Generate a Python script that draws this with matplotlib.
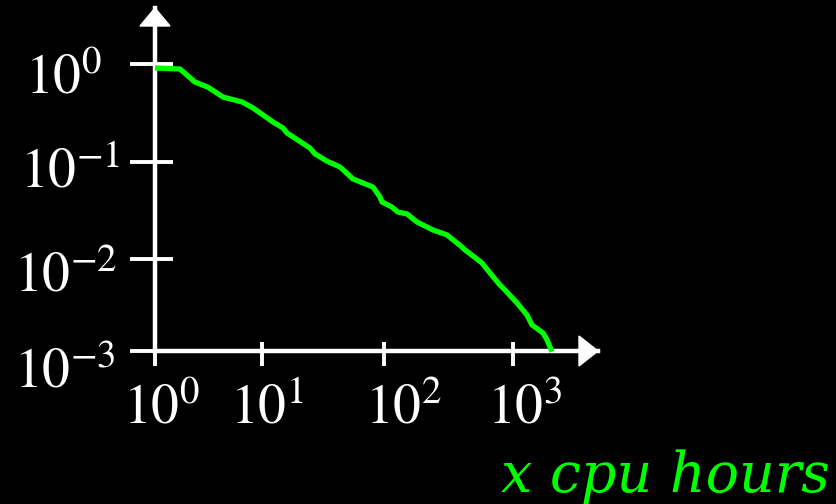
import numpy as np
import matplotlib
matplotlib.use("Agg")
import matplotlib.pyplot as plt
from matplotlib.patches import Polygon

# ---- data ----
cpu_hours = [1.0, 1.71, 2.36, 3.13, 4.32, 6.5, 8.24, 12.3, 14.9, 16.0, 24.7, 27.2,
             34.1, 43.6, 55.7, 81.3, 92.7, 96.3, 115, 128, 151, 180, 208, 240, 308,
             402, 425, 575, 663, 793, 867, 1074, 1284, 1404, 1709, 1837, 2005]
fraction = [0.91, 0.89, 0.655, 0.58, 0.46, 0.41, 0.356, 0.256, 0.222, 0.198, 0.139,
            0.121, 0.102, 0.0888, 0.0668, 0.0552, 0.0436, 0.0387, 0.0344, 0.0305,
            0.0291, 0.0241, 0.0219, 0.0199, 0.0177, 0.0133, 0.0124, 0.00906, 0.00705,
            0.00521, 0.0046, 0.00333, 0.00246, 0.00192, 0.00157, 0.00132, 0.00098]
x_ticks = [1, 10, 100, 1000]
x_tick_labels = ["$10^{0}$", "$10^{1}$", "$10^{2}$", "$10^{3}$"]
y_ticks = [1, 0.1, 0.01, 0.001]
y_tick_labels = ["$10^{0}$", "$10^{-1}$", "$10^{-2}$", "$10^{-3}$"]
x_label = "x cpu hours"

GREEN = "#00ff00"
WHITE = "white"

plt.rcParams["mathtext.fontset"] = "stix"

W, H = 836, 504
fig = plt.figure(figsize=(W / 100, H / 100), dpi=100, facecolor="black")

# axes frame in pixels: origin at (155, 351 from top), extends to arrow tips
x0, x1 = 155, 598
ytop, ybot = 8, 351
ax = fig.add_axes([x0 / W, (H - ybot) / H, (x1 - x0) / W, (ybot - ytop) / H])
ax.set_facecolor("black")

# hand-drawn (uneven) decade spacing of the reference axes
xd = np.array([-3, 0, 1, 2, 3, 6], float)
xp = np.array([-321, 0, 107, 229, 358, 745], float)
yd = np.array([-6, -3, -2, -1, 0, 3], float)
yp = np.array([-276, 0, 92, 189, 287, 581], float)

def fx(v):
    return np.interp(np.log10(np.clip(v, 1e-12, None)), xd, xp)

def fx_inv(p):
    return 10 ** np.interp(p, xp, xd)

def fy(v):
    return np.interp(np.log10(np.clip(v, 1e-12, None)), yd, yp)

def fy_inv(p):
    return 10 ** np.interp(p, yp, yd)

ax.set_xscale("function", functions=(fx, fx_inv))
ax.set_yscale("function", functions=(fy, fy_inv))
ax.set_xlim(1, fx_inv(x1 - x0))
ax.set_ylim(1e-3, fy_inv(ybot - ytop))

ax.plot(cpu_hours, fraction, color=GREEN, lw=3.8, solid_joinstyle="round",
        solid_capstyle="butt", clip_on=False, zorder=3)

# spines
for s in ["top", "right"]:
    ax.spines[s].set_visible(False)
for s in ["left", "bottom"]:
    ax.spines[s].set_color(WHITE)
    ax.spines[s].set_linewidth(3.2)

# ticks: major "out" + minor "in" at same spots for asymmetric crossing ticks
ax.xaxis.remove_overlapping_locs = False
ax.yaxis.remove_overlapping_locs = False
ax.set_xticks(x_ticks)
ax.set_xticks(x_ticks, minor=True)
ax.set_yticks(y_ticks)
ax.set_yticks(y_ticks, minor=True)
ax.tick_params(axis="x", which="major", direction="out", length=10.5, width=2.8,
               color=WHITE, labelbottom=False)
ax.tick_params(axis="x", which="minor", direction="in", length=6.5, width=2.8,
               color=WHITE, labelbottom=False)
ax.tick_params(axis="y", which="major", direction="out", length=18, width=2.8,
               color=WHITE, labelleft=False)
ax.tick_params(axis="y", which="minor", direction="in", length=13, width=2.8,
               color=WHITE, labelleft=False)

# arrow heads (pixels -> axes fraction)
aw, ah = x1 - x0, ybot - ytop
up = Polygon([[0, 1], [-15 / aw, (ybot - 26) / ah], [15 / aw, (ybot - 26) / ah]],
             closed=True, transform=ax.transAxes, color=WHITE, clip_on=False, zorder=4)
right = Polygon([[1, 0], [(579 - x0) / aw, 15 / ah], [(579 - x0) / aw, -15 / ah]],
                closed=True, transform=ax.transAxes, color=WHITE, clip_on=False, zorder=4)
ax.add_patch(up)
ax.add_patch(right)

# tick labels
x_off = [6, 5, 19, 12]
for v, lab, dx in zip(x_ticks, x_tick_labels, x_off):
    ax.annotate(lab, xy=(v, 0), xycoords=("data", "axes fraction"),
                xytext=(dx, -72), textcoords="offset pixels",
                ha="center", va="baseline", color=WHITE, fontsize=40,
                annotation_clip=False)

y_off = [(-92, -29), (-85, -26), (-89, -33), (-90, -36)]
for v, lab, (dx, dy) in zip(y_ticks, y_tick_labels, y_off):
    ax.annotate(lab, xy=(0, v), xycoords=("axes fraction", "data"),
                xytext=(dx, dy), textcoords="offset pixels",
                ha="center", va="baseline", color=WHITE, fontsize=40,
                annotation_clip=False)

fig.text(830 / W, (H - 492) / H, x_label, color=GREEN, fontsize=40,
         fontstyle="italic", family="DejaVu Serif", ha="right", va="baseline")

fig.savefig("out.png", dpi=100, facecolor="black")
